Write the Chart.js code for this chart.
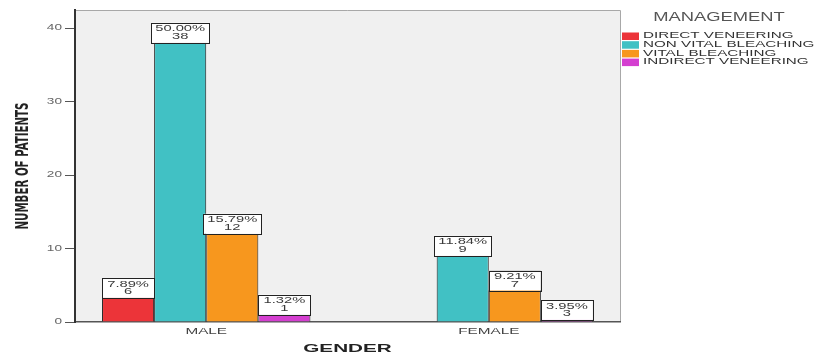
<!DOCTYPE html>
<html><head><meta charset="utf-8">
<script src="https://cdn.jsdelivr.net/npm/chart.js@4/dist/chart.umd.min.js"></script>
<style>html,body{margin:0;padding:0;background:#fff}#wrap{width:815px;height:354px;position:relative}</style>
</head><body><div id="wrap"><canvas id="c"></canvas></div>
<script>
// ---- data ----
const categories = ['MALE', 'FEMALE'];
const seriesNames = ['DIRECT VENEERING', 'NON VITAL BLEACHING', 'VITAL BLEACHING', 'INDIRECT VENEERING'];
const directVeneering   = [6, 0];
const nonVitalBleaching = [38, 9];
const vitalBleaching    = [12, 7];
const indirectVeneering = [1, 3];
const yTicks = [0, 10, 20, 30, 40];
const legendTitle = 'MANAGEMENT';
const xTitle = 'GENDER';
const yTitle = 'NUMBER OF PATIENTS';

const seriesValues = [directVeneering, nonVitalBleaching, vitalBleaching, indirectVeneering];
const seriesColors = ['#ec3439', '#41c1c4', '#f7971e', '#d43fd0'];
const total = seriesValues.flat().reduce((a, b) => a + b, 0);

const FONT = '"Liberation Sans", Arial, sans-serif';
function sText(ctx, text, x, y, font, color, sx, align) {
  ctx.save();
  ctx.font = font; ctx.fillStyle = color; ctx.textBaseline = 'middle'; ctx.textAlign = 'left';
  const w = ctx.measureText(text).width * sx;
  const x0 = align === 'center' ? x - w / 2 : align === 'right' ? x - w : x;
  ctx.translate(x0, y); ctx.scale(sx, 1); ctx.fillText(text, 0, 0);
  ctx.restore();
  return w;
}

const spssPlugin = {
  id: 'spss',
  beforeDraw(chart) {
    const { ctx, chartArea: a } = chart;
    ctx.save();
    ctx.fillStyle = '#f0f0f0';
    ctx.fillRect(a.left, a.top, a.right - a.left, a.bottom - a.top);
    ctx.strokeStyle = '#a8a8a8'; ctx.lineWidth = 1;
    ctx.beginPath();
    ctx.moveTo(a.left, a.top + 0.5); ctx.lineTo(a.right + 0.5, a.top + 0.5);
    ctx.lineTo(a.right + 0.5, a.bottom);
    ctx.stroke();
    ctx.restore();
  },
  afterDatasetsDraw(chart, args, opts) {
    const { ctx } = chart;
    chart.data.datasets.forEach((ds, i) => {
      const meta = chart.getDatasetMeta(i);
      meta.data.forEach((bar, j) => {
        const v = seriesValues[i][j];
        if (!v) return;
        const l1 = (v / total * 100).toFixed(2) + '%';
        const l2 = String(v);
        ctx.save();
        ctx.font = '9.5px ' + FONT;
        const tw = ctx.measureText(l1).width * 1.55;
        ctx.restore();
        const w = Math.max(bar.width, tw + 8);
        const h = 20;
        const inside = opts.inside[i][j];
        const top = inside ? bar.y : bar.y - h;
        ctx.save();
        ctx.fillStyle = '#ffffff';
        ctx.fillRect(bar.x - w / 2, top, w, h);
        ctx.strokeStyle = '#222'; ctx.lineWidth = 1;
        ctx.strokeRect(Math.round(bar.x - w / 2) + 0.5, Math.round(top) + 0.5, Math.round(w), h);
        ctx.restore();
        sText(ctx, l1, bar.x, top + 6, '9.5px ' + FONT, '#3a3a3a', 1.55, 'center');
        sText(ctx, l2, bar.x, top + 13.5, '9.5px ' + FONT, '#3a3a3a', 1.55, 'center');
      });
    });
  },
  afterDraw(chart) {
    const { ctx, chartArea: a, scales } = chart;
    yTicks.forEach(v => {
      const y = scales.y.getPixelForValue(v);
      sText(ctx, String(v), 62, y, '8.5px ' + FONT, '#666', 1.6, 'right');
    });
    categories.forEach((c, j) => {
      const x = scales.x.getPixelForValue(j + 1);
      sText(ctx, c, x, 331.5, '9px ' + FONT, '#444', 1.7, 'center');
    });
    sText(ctx, xTitle, (a.left + a.right) / 2, 349, 'bold 11.5px ' + FONT, '#222', 1.8, 'center');
    ctx.save();
    ctx.font = 'bold 13px "Liberation Sans Narrow", "DejaVu Sans Condensed", sans-serif';
    const tw = ctx.measureText(yTitle).width;
    ctx.translate(23, (a.top + a.bottom) / 2);
    ctx.rotate(-Math.PI / 2);
    ctx.scale(127 / tw, 1.35);
    ctx.fillStyle = '#222'; ctx.textAlign = 'center'; ctx.textBaseline = 'middle';
    ctx.fillText(yTitle, 0, 0);
    ctx.restore();
    const lx = a.right + 2;
    sText(ctx, legendTitle, 719, 17.5, '12px ' + FONT, '#555', 1.53, 'center');
    chart.data.datasets.forEach((ds, i) => {
      const y = 36 + i * 8.7;
      ctx.save();
      ctx.fillStyle = ds.backgroundColor;
      ctx.fillRect(lx, y - 3.5, 17, 7.5);
      ctx.restore();
      sText(ctx, ds.label, lx + 21, y, '8.5px ' + FONT, '#333', 1.79, 'left');
    });
  }
};

const datasets = seriesNames.map((name, i) => ({
  label: name,
  data: seriesValues[i].map((v, j) => ({ x: j + 1, y: v })),
  backgroundColor: seriesColors[i],
  borderColor: '#1e1e1e',
  borderWidth: 1,
  categoryPercentage: 0.7376,
  barPercentage: 1
}));

new Chart(document.getElementById('c'), {
  type: 'bar',
  data: { datasets },
  plugins: [spssPlugin],
  options: {
    responsive: true,
    maintainAspectRatio: false,
    animation: false,
    layout: { padding: { top: 10, right: 195, left: 0, bottom: 0 } },
    plugins: {
      legend: { display: false },
      tooltip: { enabled: false },
      spss: { inside: [[true, false], [false, false], [false, true], [false, true]] }
    },
    scales: {
      x: {
        type: 'linear',
        offset: false,
        min: 0.5355, max: 2.4645,
        ticks: { display: false, stepSize: 1, includeBounds: false },
        grid: { display: false, offset: false },
        border: { display: true, color: '#555', width: 1.5 },
        afterFit: s => { s.height = 32; }
      },
      y: {
        min: 0, max: 42.45,
        ticks: { display: false, stepSize: 10, includeBounds: false },
        grid: { drawOnChartArea: false, drawTicks: true, tickLength: 10, color: '#555', lineWidth: 1 },
        border: { display: true, color: '#333', width: 2 },
        afterFit: s => { s.width = 75; }
      }
    }
  }
});
</script>
</body></html>
